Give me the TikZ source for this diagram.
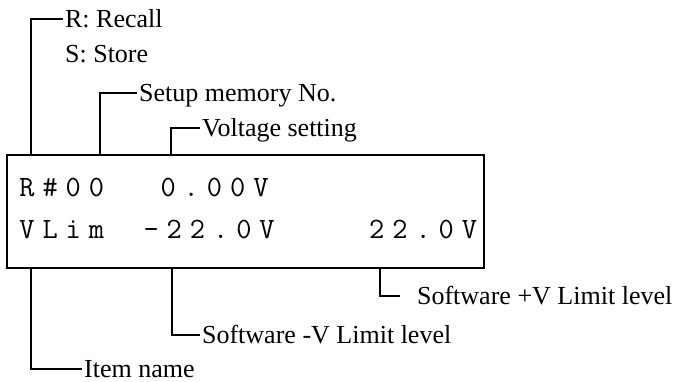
\documentclass[tikz,border=0pt]{standalone}
\usepackage{fontspec}
\setmainfont{Liberation Serif}
\newfontfamily\lcdfont{Latin Modern Mono}[LetterSpace=27]
\usetikzlibrary{positioning,calc}
\tikzset{
  lcd/.style={draw, line width=0.8pt, minimum width=9.54cm, minimum height=2.26cm, inner sep=0pt},
  lcdtext/.style={font=\lcdfont\fontsize{16.8}{20}\selectfont, anchor=west,
                  inner sep=0pt, text height=10.2pt, text depth=0pt},
  callout/.style={font=\fontsize{14.8}{17}\selectfont, anchor=west,
                  inner sep=1pt, text height=9.8pt, text depth=0pt},
  lead/.style={line width=0.6pt},
}
\begin{document}
\begin{tikzpicture}
\useasboundingbox (0,0) rectangle (13.74,7.62);

% Display panel
\node[lcd] (box) at (4.91,3.39) {};
\node[lcdtext] (line1) at (0.38,3.86) {R\#00\hspace{1.13cm}0.00V};
\node[lcdtext] (line2) at (0.38,3.02) {VLim\hspace{0.79cm}-22.0V\hspace{1.89cm}22.0V};

% Labels above
\node[callout] (recall) at (1.26,7.24) {R: Recall};
\node[callout] (store) at (1.26,6.54) {S: Store};
\node[callout] (memno) at (2.74,5.76) {Setup memory No.};
\node[callout] (vset) at (4.00,5.06) {Voltage setting};

% Labels below
\node[callout] (vplus) at (8.30,1.70) {Software +V Limit level};
\node[callout] (vminus) at (4.00,0.92) {Software -V Limit level};
\node[callout] (item) at (1.64,0.24) {Item name};

% Leader feet on the panel
\coordinate (rfoot) at (0.62,4.52);
\coordinate (mfoot) at (2.00,4.52);
\coordinate (vfoot) at (3.42,4.52);
\coordinate (ifoot) at (0.62,2.26);
\coordinate (nfoot) at (3.44,2.26);
\coordinate (pfoot) at (7.60,2.26);
\coordinate (pend) at (8.00,1.70);

\draw[lead] (rfoot) |- (recall.west);
\draw[lead] (mfoot) |- (memno.west);
\draw[lead] (vfoot) |- (vset.west);
\draw[lead] (ifoot) |- (item.west);
\draw[lead] (nfoot) |- (vminus.west);
\draw[lead] (pfoot) |- (pend);

\end{tikzpicture}
\end{document}
